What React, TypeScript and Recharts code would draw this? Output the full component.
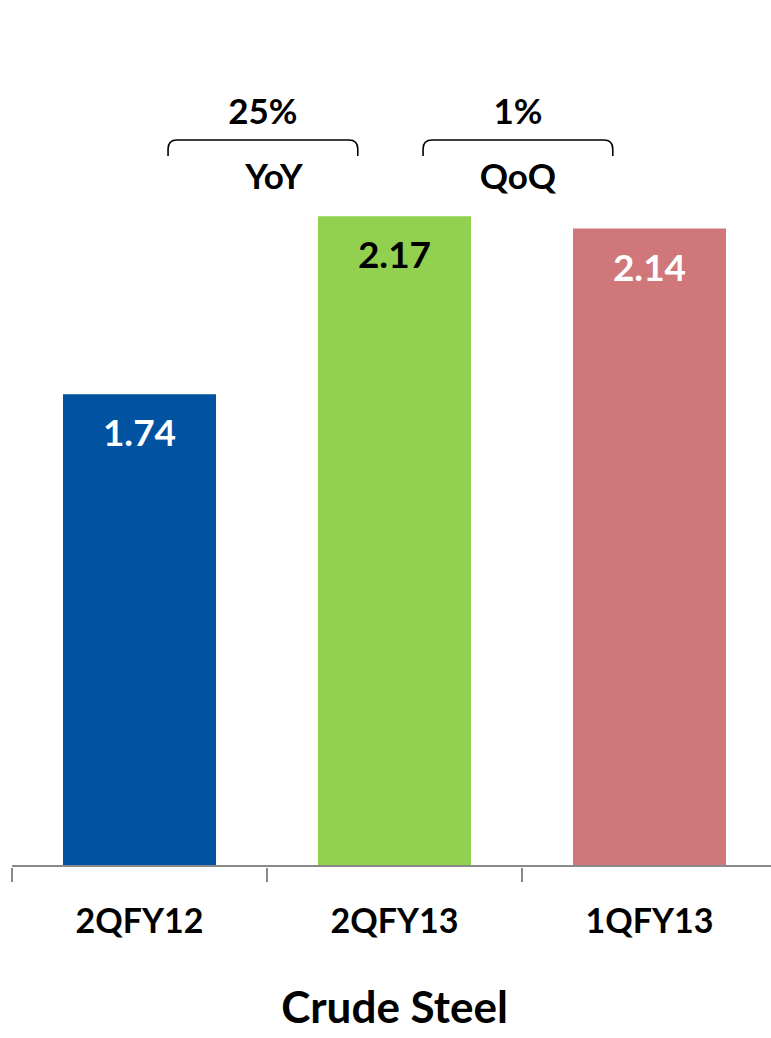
import { BarChart, Bar, XAxis, YAxis, Cell, LabelList } from "recharts";

const quarters = ["2QFY12", "2QFY13", "1QFY13"];
const crudeSteel = [1.74, 2.17, 2.14];
const barColors = ["#0152A1", "#92D050", "#CF7779"];
const valueColors = ["#ffffff", "#000000", "#ffffff"];
const changePct = ["", "25%", "1%"];
const changeKind = ["", "YoY", "QoQ"];

const data = quarters.map((q, i) => ({ q, value: crudeSteel[i] }));

const FONT = "Lato, 'Open Sans', sans-serif";
const CHART_W = 790;
const MARGIN = { top: 121, right: 13, left: 12, bottom: 0 };
const BAND = (CHART_W - MARGIN.left - MARGIN.right) / quarters.length;

const renderValue = (props: any) => {
  const { x, y, width, index } = props;
  return (
    <text
      x={x + width / 2}
      y={y + 52}
      textAnchor="middle"
      fontFamily={FONT}
      fontWeight={700}
      fontSize={37}
      fill={valueColors[index]}
    >
      {crudeSteel[index].toFixed(2)}
    </text>
  );
};

// bracket + % change drawn over the gap left of bars 2 and 3
const renderChange = (props: any) => {
  const { x, width, index } = props;
  if (!changePct[index]) return null;
  const left = x - width * 0.98;
  const right = x + width * 0.26;
  const mid = (left + right) / 2;
  const r = 9;
  const d = `M${left},156 L${left},${140 + r} Q${left},140 ${left + r},140 L${right - r},140 Q${right},140 ${right},${140 + r} L${right},156`;
  const shift = index === 1 ? 11 : 0;
  return (
    <g>
      <text x={mid} y={124} textAnchor="middle" fontFamily={FONT} fontWeight={700} fontSize={35} fill="#000">
        {changePct[index]}
      </text>
      <path d={d} fill="none" stroke="#000" strokeWidth={1.6} />
      <text x={mid + shift} y={189} textAnchor="middle" fontFamily={FONT} fontWeight={700} fontSize={35} fill="#000">
        {changeKind[index]}
      </text>
    </g>
  );
};

// tick marks sit on category boundaries, labels in the middle
const QuarterTick = (props: any) => {
  const { x, y, payload, index } = props;
  const top = y - 14;
  return (
    <g>
      <line x1={x - BAND / 2} x2={x - BAND / 2} y1={top} y2={top + 14} stroke="#898989" strokeWidth={2} />
      {index === quarters.length - 1 && (
        <line x1={x + BAND / 2} x2={x + BAND / 2} y1={top} y2={top + 14} stroke="#898989" strokeWidth={2} />
      )}
      <text x={x} y={y + 51} textAnchor="middle" fontFamily={FONT} fontWeight={700} fontSize={34} fill="#000">
        {payload.value}
      </text>
    </g>
  );
};

const TitleLabel = (props: any) => {
  const { viewBox } = props;
  return (
    <text
      x={viewBox.x + viewBox.width / 2}
      y={1023}
      textAnchor="middle"
      fontFamily={FONT}
      fontWeight={700}
      fontSize={44}
      fill="#000"
    >
      Crude Steel
    </text>
  );
};

export default function App() {
  return (
    <div style={{ position: "absolute", left: 0, top: 0, width: 771, height: 1038, overflow: "hidden", background: "#fff" }}>
      <BarChart
        width={CHART_W}
        height={1038}
        data={data}
        margin={MARGIN}
        barCategoryGap="20%"
      >
        <XAxis
          dataKey="q"
          height={172}
          stroke="#898989"
          strokeWidth={2}
          tickSize={14}
          tickLine={false}
          tick={<QuarterTick />}
          interval={0}
          label={<TitleLabel />}
        />
        <YAxis hide domain={[0.6, 2.4]} />
        <Bar dataKey="value" isAnimationActive={false}>
          {data.map((d, i) => (
            <Cell key={d.q} fill={barColors[i]} />
          ))}
          <LabelList dataKey="value" content={renderValue} />
          <LabelList dataKey="value" content={renderChange} />
        </Bar>
      </BarChart>
    </div>
  );
}
